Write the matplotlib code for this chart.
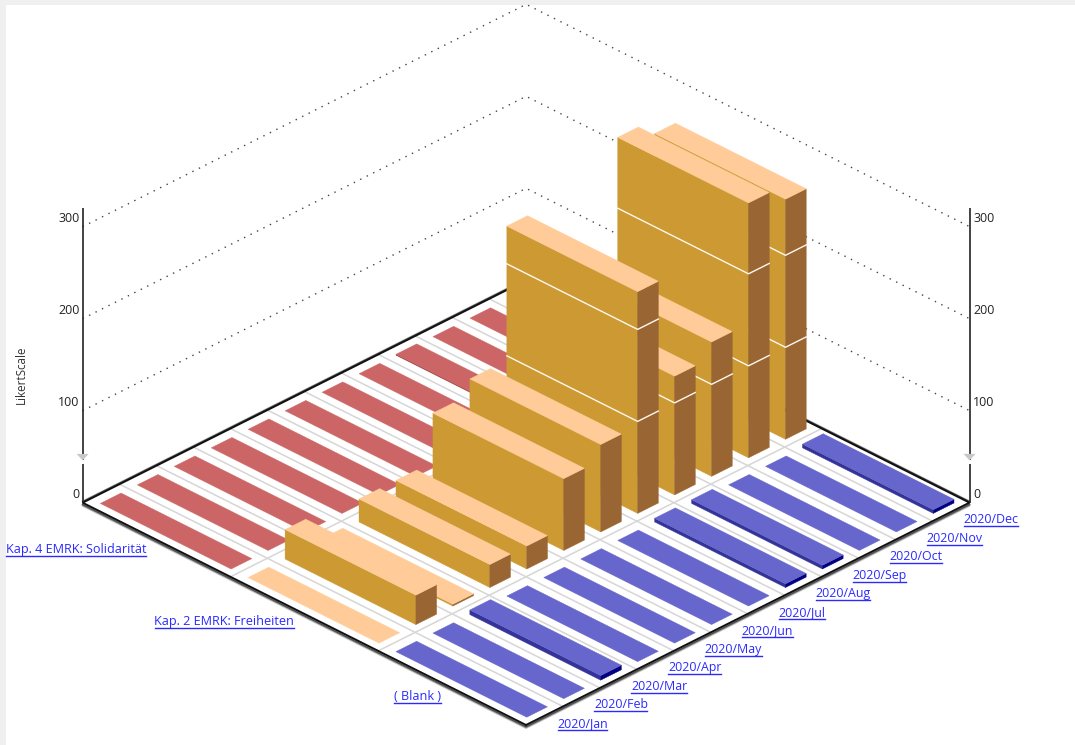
import matplotlib
matplotlib.use('Agg')
import matplotlib.pyplot as plt
from matplotlib.patches import Polygon, Rectangle

# data
months = ['2020/Jan', '2020/Feb', '2020/Mar', '2020/Apr', '2020/May', '2020/Jun',
          '2020/Jul', '2020/Aug', '2020/Sep', '2020/Oct', '2020/Nov', '2020/Dec']
categories = ['( Blank )', 'Kap. 2 EMRK: Freiheiten', 'Kap. 4 EMRK: Solidarität']
blank_values = [0, 0, 5, 0, 0, 0, 0, 4, 4, 0, 0, 4]
kap2_values = [0, 32, 2, 25, 25, 78, 95, 241, 129, 146, 277, 261]
kap4_values = [0, 0, 0, 0, 0, 0, 0, 0, 1, 0, 0, 0]
y_ticks = [0, 100, 200, 300]
y_title = 'LikertScale'

# top, left face, right face of the bars in each row
row_colors = [('#6666CC', '#333399', '#000080'),
              ('#FFCC99', '#CC9933', '#996633'),
              ('#CC6666', '#993333', '#800000')]
rows = [blank_values, kap2_values, kap4_values]

W, H = 1075, 745
FX, FY = 526.0, 725.0      # front corner of the floor
MX, MY = 36.96, -18.53     # one month step
CX, CY = -147.8, -74.1     # one category step
ZS = 0.92                  # pixels per unit
LINK = '#2A2AFF'
FONT = ['Open Sans', 'DejaVu Sans']


def pt(u, v, z=0):
    return (FX + MX * u + CX * v, FY + MY * u + CY * v - ZS * z)


fig = plt.figure(figsize=(W / 100, H / 100), dpi=100)
ax = fig.add_axes([0, 0, 1, 1])
ax.set_xlim(0, W)
ax.set_ylim(H, 0)
ax.axis('off')

# grey frame of the screenshot
ax.add_patch(Rectangle((0, 0), W, 4.5, color='#F0F0F0', lw=0, zorder=0))
ax.add_patch(Rectangle((0, 0), 5.5, H, color='#F0F0F0', lw=0, zorder=0))

nm, nc = len(months), len(categories)

# dotted walls
for t in y_ticks[1:]:
    xs, ys = zip(pt(0, nc, t), pt(nm, nc, t), pt(nm, 0, t))
    ax.plot(xs, ys, color='#444444', lw=1.0, ls=(0, (1, 4.2)), zorder=1)

# floor
for u in range(1, nm):
    xs, ys = zip(pt(u, 0), pt(u, nc))
    ax.plot(xs, ys, color='#D6D6D6', lw=1.1, zorder=2)
for v in range(1, nc):
    xs, ys = zip(pt(0, v), pt(nm, v))
    ax.plot(xs, ys, color='#D6D6D6', lw=1.1, zorder=2)

# soft shadow along the floor edges
for off, alpha in [(3.4, 0.15), (2.6, 0.3), (1.7, 0.6)]:
    xs, ys = zip(pt(0, nc), pt(0, 0), pt(nm, 0))
    ax.plot(xs, [y + off for y in ys], color='black', lw=1.2, alpha=alpha, zorder=2)
    xs, ys = zip(pt(0, nc), pt(nm, nc), pt(nm, 0))
    ax.plot(xs, [y - off * 0.5 for y in ys], color='black', lw=1.0, alpha=alpha, zorder=2)
xs, ys = zip(pt(0, 0), pt(0, nc), pt(nm, nc), pt(nm, 0), pt(0, 0))
ax.plot(xs, ys, color='#111111', lw=1.4, zorder=2, solid_joinstyle='miter')

# bars, back to front
z = 3
for v in range(nc - 1, -1, -1):
    top_c, left_c, right_c = row_colors[v]
    for u in range(nm - 1, -1, -1):
        h = rows[v][u]
        u0, u1 = u + 0.22, u + 0.78
        v0, v1 = v + 0.05, v + 0.935
        if h > 0:
            ax.add_patch(Polygon([pt(u0, v0), pt(u0, v1), pt(u0, v1, h), pt(u0, v0, h)],
                                 fc=left_c, ec=left_c, lw=0.3, zorder=z))
            ax.add_patch(Polygon([pt(u0, v0), pt(u1, v0), pt(u1, v0, h), pt(u0, v0, h)],
                                 fc=right_c, ec=right_c, lw=0.3, zorder=z))
            for t in y_ticks[1:]:
                if t < h:
                    xs, ys = zip(pt(u0, v1, t), pt(u0, v0, t), pt(u1, v0, t))
                    ax.plot(xs, ys, color='#FFF8EE', lw=1.0, zorder=z + 0.1)
        ax.add_patch(Polygon([pt(u0, v0, h), pt(u1, v0, h), pt(u1, v1, h), pt(u0, v1, h)],
                             fc=top_c, ec=top_c, lw=0.3, zorder=z + 0.2))
        z += 1

# vertical axes with the little grey marker
top_val = 320
for side in [pt(0, nc), pt(nm, 0)]:
    x, y0 = side
    ax.plot([x, x], [y0, y0 - ZS * 42], color='#222222', lw=1.2, zorder=z, solid_capstyle='butt')
    ax.plot([x, x], [y0 - ZS * 46, y0 - ZS * top_val], color='#222222', lw=1.2, zorder=z,
            solid_capstyle='butt')
    ax.add_patch(Polygon([(x - 6, y0 - ZS * 53), (x + 6, y0 - ZS * 53), (x, y0 - ZS * 46)],
                         fc='#C8C8C8', ec='none', zorder=z))
    for t in y_ticks:
        ty = y0 - 8.4 - ZS * t
        if x < W / 2:
            ax.text(x - 3, ty, str(t), ha='right', va='center', fontsize=9, color='#222222',
                    family=FONT)
        else:
            ax.text(x + 3.5, ty, str(t), ha='left', va='center', fontsize=9, color='#222222',
                    family=FONT)

ax.text(21, 375, y_title, rotation=90, ha='center', va='center', fontsize=8.4, color='#333333',
        family=FONT)

fig.canvas.draw()
rend = fig.canvas.get_renderer()


def link(x, y, s, ha, size):
    t = ax.text(x, y, s, ha=ha, va='center', fontsize=size, color=LINK, family=FONT, zorder=z)
    bb = t.get_window_extent(rend).transformed(ax.transData.inverted())
    ax.plot([bb.x0 + 0.5, bb.x1 - 0.5], [y + 6.5, y + 6.5], color=LINK, lw=1.0, zorder=z)


for i, m in enumerate(months):
    x, y = pt(i, 0)
    link(x + 31, y - 1.5, m, 'left', 8.9)

cat_right = [441, 294, 146]
cat_y = [696, 621, 549]
for i, c in enumerate(categories):
    link(cat_right[i], cat_y[i], c, 'right', 9.05)

fig.savefig('out.png', dpi=100)
